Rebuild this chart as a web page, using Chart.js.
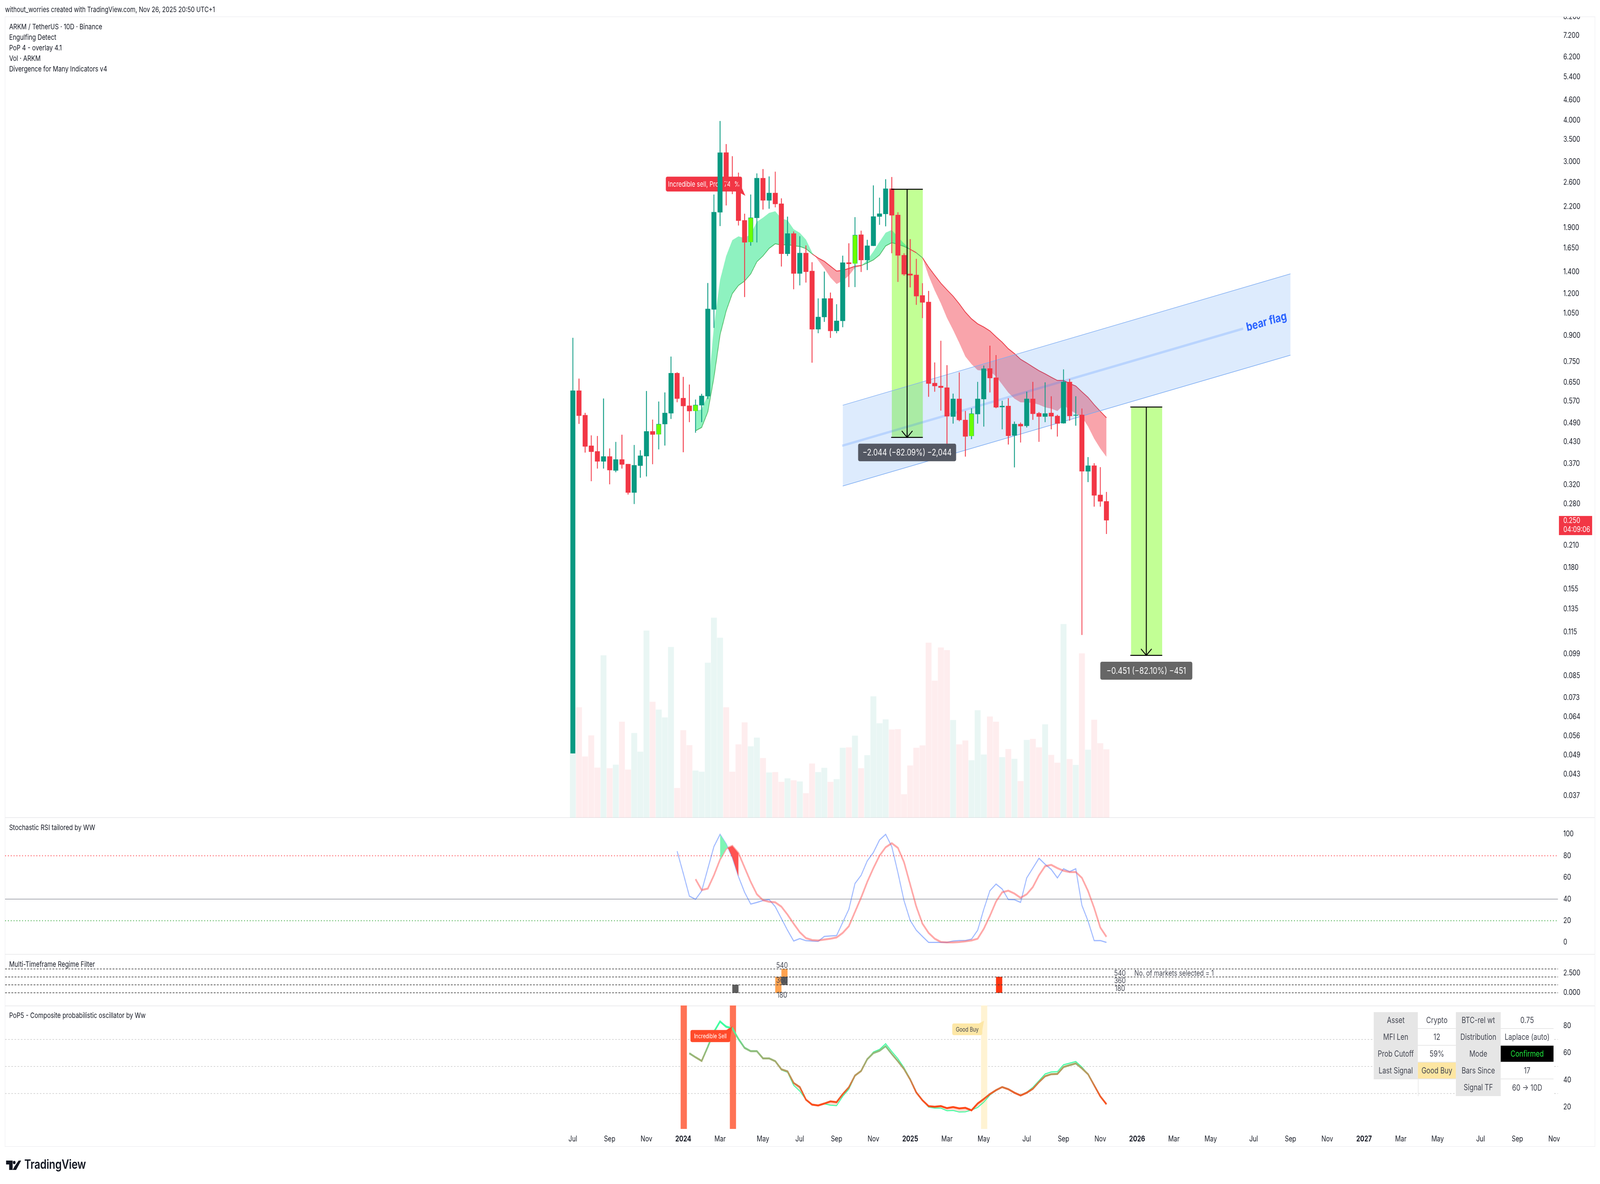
<!DOCTYPE html>
<html>
<head>
<meta charset="utf-8">
<title>ARKM / TetherUS 10D</title>
<script src="https://cdn.jsdelivr.net/npm/chart.js@4"></script>
<style>
  html, body { margin: 0; padding: 0; background: #fff; width: 100%; height: 100%; overflow: hidden; font-family: Inter, sans-serif; color: #131722; }
  #root { position: absolute; left: 0; top: 0; width: 5061px; height: 3031px; transform-origin: 0 0; }
  .abs { position: absolute; white-space: nowrap; }
  canvas { position: absolute; left: 16px; }
  #frame { left: 15px; top: 42px; width: 5031px; height: 2894px; border: 2px solid #f3f3f5; box-sizing: border-box; }
  .sep { position: absolute; left: 16px; width: 5028px; height: 2px; background: #ececee; }
  .legend { left: 29px; font-size: 19px; line-height: 27px; }
  #stats { position: absolute; left: 4345px; top: 2591px; border-collapse: separate; border-spacing: 0; font-size: 21px; color: #434651; z-index: 5; }
  #stats td { height: 41px; padding: 0; text-align: center; background: #fff; border-bottom: 2px solid #e8e8e8; }
  #stats td.k { background: #e6e6e6; border-bottom: 2px solid #e6e6e6; }
  #stats td.none { background: transparent; border-bottom: none; }
</style>
</head>
<body>
<div id="root">
<div class="abs" style="left:16px;top:13px;font-size:18.7px">without_worries created with TradingView.com, Nov 26, 2025 20:50 UTC+1</div>
<div class="abs" id="frame"></div>
<div class="sep" style="top:2092px"></div>
<div class="sep" style="top:2442px"></div>
<div class="sep" style="top:2574px"></div>

<canvas id="price" width="5028" height="2050" style="top:43px"></canvas>
<canvas id="stoch" width="5028" height="350" style="top:2093px"></canvas>
<canvas id="regime" width="5028" height="131" style="top:2443px"></canvas>
<canvas id="pop" width="5028" height="361" style="top:2574px"></canvas>

<div class="abs legend" style="top:55px;z-index:5">ARKM / TetherUS · 10D · Binance<br>Engulfing Detect<br>PoP 4 - overlay 4.1<br>Vol · ARKM<br>Divergence for Many Indicators v4</div>
<div class="abs legend" style="top:2105px;z-index:5">Stochastic RSI tailored by WW</div>
<div class="abs legend" style="top:2455px;z-index:5">Multi-Timeframe Regime Filter</div>
<div class="abs legend" style="top:2586px;z-index:5">PoP5 - Composite probabilistic oscillator by Ww</div>

<table id="stats">
  <colgroup><col style="width:140px"><col style="width:120px"><col style="width:142px"><col style="width:167px"></colgroup>
  <tr><td class="k">Asset</td><td>Crypto</td><td class="k">BTC-rel wt</td><td>0.75</td></tr>
  <tr><td class="k">MFI Len</td><td>12</td><td class="k">Distribution</td><td>Laplace (auto)</td></tr>
  <tr><td class="k">Prob Cutoff</td><td>59%</td><td class="k">Mode</td><td style="background:#000;color:#1ee63c">Confirmed</td></tr>
  <tr><td class="k">Last Signal</td><td style="background:#fde6a2">Good Buy</td><td class="k">Bars Since</td><td>17</td></tr>
  <tr><td class="none"></td><td class="none" style="border-left:2px solid #e8e8e8"></td><td class="k">Signal TF</td><td style="border-bottom:none">60 -&gt; 10D</td></tr>
</table>

<svg class="abs" style="left:19px;top:2971px" width="48" height="24" viewBox="0 0 48 24">
  <path d="M0 0H21V24H10V10H0Z M40 0H48L32 24H21L27 15Z" fill="#131722"/>
  <circle cx="26" cy="5" r="4.2" fill="#131722"/>
</svg>
<div class="abs" style="left:77px;top:2961px;font-size:32.5px;font-weight:600;letter-spacing:-0.3px">TradingView</div>
</div>

<script>
// the layout is 5061x3031, fit it to whatever window we really got
document.getElementById('root').style.transform = 'scale(' + (window.innerWidth / 5061) + ',' + (window.innerHeight / 3031) + ')';

// candles
const open_ = [0.0497,0.614,0.518,0.419,0.403,0.376,0.389,0.353,0.381,0.369,0.303,0.365,0.390,0.463,0.453,0.487,0.525,0.693,0.583,0.553,0.533,0.555,0.591,1.078,2.114,3.20,2.623,2.487,2.00,1.72,2.035,2.679,2.296,2.417,2.244,1.586,1.825,1.383,1.594,1.407,0.940,1.023,1.163,0.929,0.996,1.492,1.482,1.81,1.519,1.677,2.053,2.09,2.49,2.075,1.57,1.38,1.37,1.188,1.135,0.647,0.634,0.627,0.513,0.58,0.501,0.448,0.522,0.579,0.716,0.672,0.548,0.552,0.450,0.487,0.481,0.58,0.525,0.513,0.526,0.515,0.490,0.652,0.517,0.519,0.351,0.365,0.298,0.285];
const close_ = [0.614,0.516,0.417,0.402,0.376,0.389,0.354,0.381,0.368,0.303,0.366,0.391,0.463,0.453,0.487,0.526,0.693,0.581,0.552,0.533,0.556,0.592,1.082,2.116,3.196,2.623,2.487,1.995,1.717,2.037,2.679,2.296,2.417,2.24,1.586,1.825,1.383,1.594,1.40,0.940,1.023,1.163,0.929,0.996,1.492,1.479,1.806,1.519,1.677,2.053,2.094,2.49,2.071,1.568,1.376,1.366,1.182,1.132,0.645,0.634,0.627,0.514,0.580,0.501,0.447,0.524,0.580,0.715,0.670,0.547,0.552,0.449,0.487,0.480,0.580,0.523,0.513,0.524,0.514,0.489,0.652,0.515,0.519,0.351,0.365,0.297,0.285,0.250];
const high_ = [0.885,0.667,0.526,0.450,0.448,0.581,0.411,0.430,0.452,0.369,0.421,0.406,0.612,0.502,0.569,0.606,0.777,0.697,0.675,0.640,0.577,0.600,1.294,2.39,3.977,3.39,3.117,2.782,2.092,2.39,2.767,2.851,2.709,2.80,2.327,2.05,1.85,1.79,1.679,1.495,1.163,1.401,1.211,1.117,1.564,1.704,2.043,1.86,1.746,2.546,2.338,2.657,2.698,2.113,1.59,1.754,1.53,1.292,1.225,0.746,0.867,0.732,0.601,0.696,0.533,0.543,0.652,0.730,0.838,0.785,0.572,0.582,0.495,0.492,0.609,0.652,0.529,0.650,0.590,0.519,0.711,0.665,0.590,0.542,0.387,0.371,0.361,0.304];
const low_ = [0.0497,0.488,0.400,0.328,0.358,0.358,0.321,0.349,0.358,0.299,0.280,0.336,0.339,0.369,0.409,0.420,0.505,0.567,0.401,0.494,0.459,0.494,0.580,0.949,1.924,2.219,2.40,1.931,1.176,1.679,1.717,2.157,2.169,2.19,1.453,1.563,1.241,1.275,1.30,0.746,0.915,0.990,0.886,0.915,0.954,1.26,1.26,1.399,1.418,1.675,1.94,1.92,1.593,1.306,1.363,1.257,1.114,1.016,0.589,0.610,0.535,0.418,0.489,0.497,0.389,0.439,0.489,0.479,0.607,0.544,0.470,0.423,0.361,0.429,0.476,0.502,0.431,0.494,0.470,0.447,0.489,0.499,0.482,0.113,0.326,0.275,0.275,0.2275];
const engulfBars = [14,20,29,46,65];
const volume = [46.0,79.0,43.7,58.8,35.7,116.2,35.3,37.8,68.6,34.3,60.5,47.1,133.9,82.9,77.3,71.7,122.1,21.1,62.5,51.8,33.6,32.8,110.9,143.1,128.8,79.0,32.8,52.4,68.1,51.0,57.2,42.6,32.2,32.5,25.5,28.0,26.6,25.8,17.4,38.7,32.5,35.6,25.5,27.5,49.9,50.2,58.6,35.3,44.6,86.8,67.5,70.3,63.0,63.3,16.6,37.3,49.9,51.6,125.2,98.0,121.8,119.9,69.8,52.4,55.2,41.0,76.8,45.1,72.3,68.6,43.2,49.0,42.0,26.1,55.5,56.3,50.2,66.7,44.8,39.2,138.6,41.8,37.6,117.6,48.5,70.0,53.2,48.8];
const volumeUp = [1,0,0,0,0,1,0,1,0,0,1,1,1,0,1,1,1,0,0,0,1,1,1,1,1,0,0,0,0,1,1,0,1,0,0,1,0,1,0,0,1,1,0,1,1,0,1,0,1,1,1,1,0,0,0,0,0,0,0,0,0,0,1,0,0,1,1,1,0,0,1,0,1,0,1,0,0,1,0,0,1,0,1,0,1,0,0,0];

// PoP overlay cloud, first value is bar 20
const cloudStart = 20;
const cloudSlow = [0.465,0.476,0.530,0.673,0.905,1.068,1.204,1.274,1.313,1.380,1.501,1.563,1.647,1.70,1.685,1.692,1.676,1.669,1.644,1.585,1.54,1.505,1.455,1.407,1.413,1.433,1.455,1.462,1.488,1.52,1.573,1.675,1.713,1.694,1.669,1.636,1.597,1.543,1.446,1.366,1.293,1.235,1.182,1.121,1.058,1.01,0.976,0.954,0.929,0.892,0.859,0.821,0.794,0.763,0.744,0.724,0.705,0.690,0.674,0.659,0.659,0.645,0.634,0.609,0.586,0.557,0.532,0.509];
const cloudFast = [0.534,0.539,0.597,0.962,1.323,1.562,1.743,1.79,1.767,1.818,1.98,2.037,2.106,2.13,2.026,2.0,1.881,1.834,1.75,1.602,1.515,1.433,1.345,1.286,1.316,1.362,1.44,1.455,1.519,1.611,1.723,1.835,1.872,1.781,1.704,1.636,1.593,1.543,1.362,1.23,1.125,1.016,0.935,0.855,0.778,0.738,0.708,0.705,0.702,0.678,0.641,0.606,0.581,0.566,0.566,0.564,0.557,0.547,0.542,0.533,0.555,0.538,0.524,0.512,0.479,0.440,0.411,0.388];

// drawings on the price pane
const channelX = [44, 117];
const channelTop = [0.555, 1.380];
const channelBottom = [0.317, 0.785];
const channelMidX = [43.9, 109.3];
const channelMid = [0.419, 0.944];
const measureStart = [52.0, 91.0];
const measureEnd = [57.06, 96.1];
const measureMid = [54.5, 93.5];
const measureTop = [2.48, 0.548];
const measureBottom = [0.444, 0.098];

// stochastic RSI
const stochKStart = 17;
const stochK = [84.3,63.8,42.7,39.8,47.5,68.0,88.5,99.8,91.0,78.3,60.8,46.3,35.4,36.9,38.7,39.6,33.0,22.1,11.2,1.3,3.5,1.6,1.3,1.0,5.5,6.0,6.3,18.5,30.6,54.4,62.0,75.3,83.1,94.6,99.8,88.5,64.4,38.4,20.3,11.2,5.5,0,0,0,0,1.3,1.7,1.7,3.0,11.2,30.6,47.8,53.9,49.3,39.6,39.4,37.0,59.6,68.6,77.7,72.2,67.4,59.6,68.0,65.4,68.0,34.2,19.7,1.6,1.7,0];
const stochDStart = 20;
const stochD = [58.4,48.4,49.7,62.0,76.5,86.7,89.2,82.5,69.2,55.9,44.5,39.0,37.5,37.0,33.0,25.7,17.3,9.4,4.0,2.2,1.8,2.6,3.4,4.6,8.8,14.9,28.2,41.4,55.9,68.6,80.1,87.9,91.6,87.3,74.0,53.5,33.0,17.3,8.8,3.4,0.4,0,0,0.4,1.0,1.8,3.4,12.5,24.5,37.8,46.3,47.8,45.1,41.2,44.5,51.1,62.0,70.4,71.6,68.6,66.2,65.0,65.0,59.6,47.5,31.8,13.7,5.2];
const stochTicks = [100,80,60,40,20,0];

// regime filter columns
const regimeX = [26.5,33.5,34.5,34.5,69.5];
const regimeLow = [0,0,2,1,0];
const regimeHigh = [1,2,3,2,2];
const regimeColor = ['#5d5d5d','#ffa24f','#ffa24f','#5d5d5d','#ff3512'];
const regimeLevels = [0,1,2,3];
const regimeTicks = [2.5,0];

// PoP5 oscillator, first value is bar 19
const popStart = 19;
const popThick = [59.7,56.8,54.1,64.5,75.6,83.3,79.3,78.3,70.3,63.7,61.3,61.3,56.0,56.0,53.9,47.9,46.4,37.8,34.8,25.5,21.8,21.2,22.6,24.2,23.6,29.5,34.6,43.3,46.7,55.4,59.9,61.6,65.0,59.2,53.9,48.1,40.4,30.8,25.0,20.7,20.2,20.7,19.2,20.0,19.0,19.4,17.6,22.6,26.0,29.6,32.5,34.8,33.2,30.6,28.6,30.6,33.5,38.5,42.8,44.3,44.5,49.6,51.0,52.3,48.6,44.3,36.1,27.9,22.1];
const popThin = [60.0,57.0,54.4,65.0,75.6,83.3,79.9,78.3,70.8,64.2,61.6,61.6,56.3,56.3,54.1,47.4,45.7,36.1,31.8,25.5,22.1,21.2,22.4,21.4,21.0,27.9,33.2,42.8,47.2,55.4,60.7,62.6,66.9,61.1,55.8,49.1,40.9,30.8,25.0,20.0,19.2,19.2,17.3,17.5,16.3,16.5,17.8,19.7,23.6,28.9,32.2,34.8,33.2,30.6,28.9,31.0,34.6,39.5,44.5,46.0,46.2,51.3,52.5,53.7,49.6,44.3,36.1,27.9,22.1];
const signalX = [18.08,26.1,67.06];
const signalColor = ['#ff7355','#ff7355','#fff3d3'];
const popGrid = [70,50,30];
const popTicks = [80,60,40,20];

// axes
const priceTicks = [8.2,7.2,6.2,5.4,4.6,4.0,3.5,3.0,2.6,2.2,1.9,1.65,1.4,1.2,1.05,0.9,0.75,0.65,0.57,0.49,0.43,0.37,0.32,0.28,0.21,0.18,0.155,0.135,0.115,0.099,0.085,0.073,0.064,0.056,0.049,0.043,0.037];
const timeTickX = [0,6,12,18,24,31,37,43,49,55,61,67,74,80,86,92,98,104,111,117,123,129,135,141,148,154,160];
const timeTickLabel = ['Jul','Sep','Nov','2024','Mar','May','Jul','Sep','Nov','2025','Mar','May','Jul','Sep','Nov','2026','Mar','May','Jul','Sep','Nov','2027','Mar','May','Jul','Sep','Nov'];

const xMin = -92.58, xMax = 160.62;
const GREEN = '#089981', RED = '#f23645', LIME = '#6aff00', TEXT = '#131722', SOFT = '#434651';
const FONT = 'Inter, sans-serif';

Chart.defaults.font.family = FONT;
Chart.defaults.font.size = 19.5;
Chart.defaults.color = TEXT;

const series = (start, arr) => arr.map((y, k) => ({ x: start + k, y }));
const hline = (y, color, dash, width, order) => ({
  type: 'line', data: [{ x: xMin, y }, { x: xMax, y }], borderColor: color, borderDash: dash, borderWidth: width, pointRadius: 0, order
});
const line = (data, color, width, order, extra) => Object.assign({
  type: 'line', data, borderColor: color, borderWidth: width, pointRadius: 0, tension: 0, order
}, extra || {});

function yAxis(ticks, fmt, extra) {
  return Object.assign({
    position: 'right', bounds: 'data', grid: { display: false, drawTicks: false }, border: { display: false },
    ticks: { padding: 17, autoSkip: false, callback: fmt },
    afterBuildTicks: s => { s.ticks = ticks.map(value => ({ value })); },
    afterFit: s => { s.width = 116; s.paddingTop = 0; s.paddingBottom = 0; }
  }, extra);
}
const xHidden = { type: 'linear', min: xMin, max: xMax, offset: false, bounds: 'data', display: false, grid: { display: false } };

function pane(id, datasets, scales, plugin) {
  return new Chart(document.getElementById(id), {
    type: 'bar',
    data: { datasets },
    options: {
      responsive: false, animation: false, devicePixelRatio: 1,
      layout: { padding: 0 },
      plugins: { legend: { display: false }, tooltip: { enabled: false } },
      scales
    },
    plugins: plugin ? [plugin] : []
  });
}

function roundBox(c, x, y, w, h, r, fill) {
  c.fillStyle = fill;
  c.beginPath();
  c.roundRect(x, y, w, h, r);
  c.fill();
}
function label(c, text, cx, cy, w, h, fill, color, size, tip) {
  if (tip) {
    c.fillStyle = fill;
    c.beginPath();
    c.moveTo(tip[2], tip[3]);
    c.lineTo(tip[0], tip[1]);
    c.lineTo(tip[4], tip[5]);
    c.closePath();
    c.fill();
  }
  roundBox(c, cx - w / 2, cy - h / 2, w, h, 5, fill);
  c.fillStyle = color;
  c.font = size + 'px ' + FONT;
  c.textAlign = 'center';
  c.textBaseline = 'middle';
  c.fillText(text, cx, cy + 1);
}

/* ---------- price pane ---------- */
const isUp = i => close_[i] >= open_[i];
const idx = open_.map((_, i) => i);
const priceSets = [];

// volume at the back
priceSets.push({
  type: 'bar', yAxisID: 'vol', grouped: false, barThickness: 18, order: 20,
  data: volume.map((y, i) => ({ x: i, y })),
  backgroundColor: volumeUp.map(u => u ? 'rgba(8,153,129,0.09)' : 'rgba(242,54,69,0.09)')
});

// measure boxes
measureStart.forEach((x0, m) => {
  const x1 = measureEnd[m];
  priceSets.push(line([{ x: x0, y: measureTop[m] }, { x: x1, y: measureTop[m] }], 'transparent', 0, 18, {
    fill: { target: '+1' }, backgroundColor: 'rgba(120,255,20,0.45)'
  }));
  priceSets.push(line([{ x: x0, y: measureBottom[m] }, { x: x1, y: measureBottom[m] }], 'transparent', 0, 18));
});

// cloud
priceSets.push(line(series(cloudStart, cloudFast), 'transparent', 0, 16, {
  fill: { target: '+1', above: 'rgba(30,230,130,0.5)', below: 'rgba(242,54,69,0.45)' }
}));
priceSets.push(line(series(cloudStart, cloudSlow), RED, 2.2, 16, {
  segment: { borderColor: s => cloudFast[s.p1DataIndex] >= cloudSlow[s.p1DataIndex] ? '#5cb868' : RED }
}));

// bear flag channel
priceSets.push(line(channelX.map((x, k) => ({ x, y: channelTop[k] })), '#7fadf2', 1.5, 14, {
  fill: { target: '+1' }, backgroundColor: 'rgba(41,130,243,0.16)'
}));
priceSets.push(line(channelX.map((x, k) => ({ x, y: channelBottom[k] })), '#7fadf2', 1.5, 14));
priceSets.push(line(channelMidX.map((x, k) => ({ x, y: channelMid[k] })), 'rgba(41,120,255,0.2)', 6, 13));

// candles
priceSets.push({
  type: 'bar', grouped: false, barThickness: 2, order: 6,
  data: idx.map(i => ({ x: i, y: [low_[i], high_[i]] })),
  backgroundColor: idx.map(i => isUp(i) ? GREEN : RED)
});
priceSets.push({
  type: 'bar', grouped: false, barThickness: 15, order: 5,
  data: idx.map(i => ({ x: i, y: [Math.min(open_[i], close_[i]), Math.max(open_[i], close_[i])] })),
  backgroundColor: idx.map(i => engulfBars.includes(i) ? LIME : isUp(i) ? GREEN : RED),
  borderColor: idx.map(i => engulfBars.includes(i) ? GREEN : 'transparent'),
  borderWidth: idx.map(i => engulfBars.includes(i) ? 1.2 : 0)
});

// measure arrows, above the candles
measureStart.forEach((x0, m) => {
  const x1 = measureEnd[m], mid = measureMid[m], top = measureTop[m], bot = measureBottom[m];
  priceSets.push(line([{ x: x0 - 0.1, y: top }, { x: x1, y: top }], '#000', 2.5, 1));
  priceSets.push(line([{ x: x0 - 0.1, y: bot }, { x: x1, y: bot }], '#000', 2.5, 1));
  priceSets.push(line([{ x: mid, y: top }, { x: mid, y: bot }], '#000', 3, 1));
  priceSets.push(line([{ x: mid - 0.87, y: bot * 1.046 }, { x: mid, y: bot }, { x: mid + 0.87, y: bot * 1.046 }], '#000', 2.5, 1));
});

const priceNotes = {
  id: 'priceNotes',
  beforeDatasetsDraw(chart) {
    const c = chart.ctx, x = chart.scales.x, y = chart.scales.y;
    const cx = x.getPixelForValue(21.37), cy = y.getPixelForValue(2.572);
    c.save();
    label(c, 'Incredible sell, Prob 74.1%', cx, cy, 241, 38, RED, '#fff', 18.5,
      [cx + 131, cy + 30, cx + 104, cy + 18, cx + 120, cy + 10]);
    c.restore();
  },
  afterDatasetsDraw(chart) {
    const c = chart.ctx, x = chart.scales.x, y = chart.scales.y;
    c.save();
    label(c, '\u22122.044 (\u221282.09%) \u22122,044', x.getPixelForValue(54.5), y.getPixelForValue(0.400), 310, 45, 'rgba(80,84,94,0.97)', '#fff', 22.5);
    label(c, '\u22120.451 (\u221282.10%) \u2212451', x.getPixelForValue(93.5), y.getPixelForValue(0.0881), 291, 46, '#666', '#fff', 23);

    c.save();
    c.translate(x.getPixelForValue(113.1), y.getPixelForValue(0.9885));
    c.rotate(-13.3 * Math.PI / 180);
    c.fillStyle = '#2962ff';
    c.font = 'bold 30px ' + FONT;
    c.textAlign = 'center';
    c.textBaseline = 'middle';
    c.fillText('bear flag', 0, 0);
    c.restore();

    // last price tag on the axis
    const tagY = y.getPixelForValue(0.25);
    c.fillStyle = RED;
    c.fillRect(x.right + 3, tagY - 11, 105, 49);
    c.fillStyle = '#fff';
    c.font = '19.5px ' + FONT;
    c.textAlign = 'left';
    c.textBaseline = 'middle';
    c.fillText('0.250', x.right + 17, tagY + 1);
    c.fillText('04:09:06', x.right + 17, tagY + 24);
    c.restore();
  }
};

pane('price', priceSets, {
  x: xHidden,
  y: yAxis(priceTicks, v => v.toFixed(3), { type: 'logarithmic', min: 0.03182, max: 8.2 }),
  vol: { type: 'linear', display: false, min: 0, max: 573.7, position: 'left' }
}, priceNotes);

/* ---------- stochastic RSI ---------- */
const crossFrom = 24, crossTo = 27;
pane('stoch', [
  hline(80, '#ff6b70', [3, 6], 2.5, 9),
  hline(40, '#787b86', [], 1.2, 9),
  hline(20, '#66bb6a', [3, 6], 2.5, 9),
  line(series(stochDStart, stochD), 'rgba(255,82,82,0.5)', 5, 2),
  line(series(crossFrom, stochK.slice(crossFrom - stochKStart, crossTo - stochKStart + 1)), 'transparent', 0, 1, {
    fill: { target: 3, above: '#7df5b5', below: '#ff5252' }
  }),
  line(series(stochKStart, stochK), 'rgba(41,98,255,0.45)', 3, 3)
], {
  x: xHidden,
  y: yAxis(stochTicks, v => String(v), { min: -11.0, max: 115.3 })
});

/* ---------- regime filter ---------- */
const regimeNotes = {
  id: 'regimeNotes',
  afterDatasetsDraw(chart) {
    const c = chart.ctx, x = chart.scales.x, y = chart.scales.y;
    c.save();
    c.fillStyle = SOFT;
    c.font = '19.5px ' + FONT;
    c.textAlign = 'center';
    c.textBaseline = 'middle';
    [['540', 34.1, 3.4], ['360', 34.1, 1.53], ['180', 34.1, -0.34], ['540', 89.2, 2.41], ['360', 89.2, 1.48], ['180', 89.2, 0.49]]
      .forEach(t => c.fillText(t[0], x.getPixelForValue(t[1]), y.getPixelForValue(t[2])));
    c.textAlign = 'left';
    c.fillText('No. of markets selected = 1', x.getPixelForValue(91.55), y.getPixelForValue(2.41));
    c.restore();
  }
};
pane('regime', [
  ...regimeLevels.map(v => hline(v, '#333', [6, 4], 1.5, 1)),
  {
    type: 'bar', grouped: false, barThickness: 19, order: 5,
    data: regimeX.map((x, k) => ({ x, y: [regimeLow[k], regimeHigh[k]] })),
    backgroundColor: regimeColor
  }
], {
  x: xHidden,
  y: yAxis(regimeTicks, v => v.toFixed(3), { min: -1.6, max: 4.852 })
}, regimeNotes);

/* ---------- PoP5 oscillator ---------- */
function popGradient(ctx) {
  const chart = ctx.chart, y = chart.scales.y;
  if (!y || !chart.chartArea) return '#ff4a20';
  const g = chart.ctx.createLinearGradient(0, y.getPixelForValue(80), 0, y.getPixelForValue(20));
  g.addColorStop(0, '#3dffa0');
  g.addColorStop(0.3, '#8fbf7f');
  g.addColorStop(0.6, '#b89a5e');
  g.addColorStop(0.82, '#e8632f');
  g.addColorStop(1, '#ff4a1a');
  return g;
}
const popNotes = {
  id: 'popNotes',
  afterDatasetsDraw(chart) {
    const c = chart.ctx, x = chart.scales.x, y = chart.scales.y;
    c.save();
    let cx = x.getPixelForValue(22.42), cy = y.getPixelForValue(72.5);
    label(c, 'Incredible Sell', cx, cy, 126, 31, '#ff4a2a', '#fff', 15.5, [cx + 69, cy - 25, cx + 50, cy - 15, cx + 63, cy + 5]);
    cx = x.getPixelForValue(64.3); cy = y.getPixelForValue(77.5);
    label(c, 'Good Buy', cx, cy, 95, 30, '#fde7a6', SOFT, 15.5, [cx + 53, cy - 22, cx + 35, cy - 14, cx + 47, cy + 5]);
    c.restore();
  }
};
pane('pop', [
  ...popGrid.map(v => hline(v, '#cacaca', [5, 5], 1.5, 9)),
  {
    type: 'bar', grouped: false, barThickness: 19, order: 8,
    data: signalX.map(x => ({ x, y: [3.84, 95.1] })),
    backgroundColor: signalColor
  },
  line(series(popStart, popThin), '#3dffa0', 2.5, 3, {
    fill: { target: '+1', above: 'rgba(60,255,160,0.22)', below: 'rgba(255,80,40,0.2)' }
  }),
  line(series(popStart, popThick), popGradient, 5, 2)
], {
  x: {
    type: 'linear', min: xMin, max: xMax, offset: false, bounds: 'data',
    grid: { display: false, drawTicks: false }, border: { display: false },
    ticks: {
      padding: 14, autoSkip: false, maxRotation: 0, minRotation: 0,
      callback: v => timeTickLabel[timeTickX.indexOf(v)],
      font: ctx => ({ size: 19.5, weight: /^20/.test(timeTickLabel[ctx.index] || '') ? 'bold' : 'normal' })
    },
    afterBuildTicks: s => { s.ticks = timeTickX.map(value => ({ value })); },
    afterFit: s => { s.height = 45; s.paddingLeft = 0; s.paddingRight = 0; }
  },
  y: yAxis(popTicks, v => String(v), { min: 3.84, max: 95.1 })
}, popNotes);
</script>
</body>
</html>
